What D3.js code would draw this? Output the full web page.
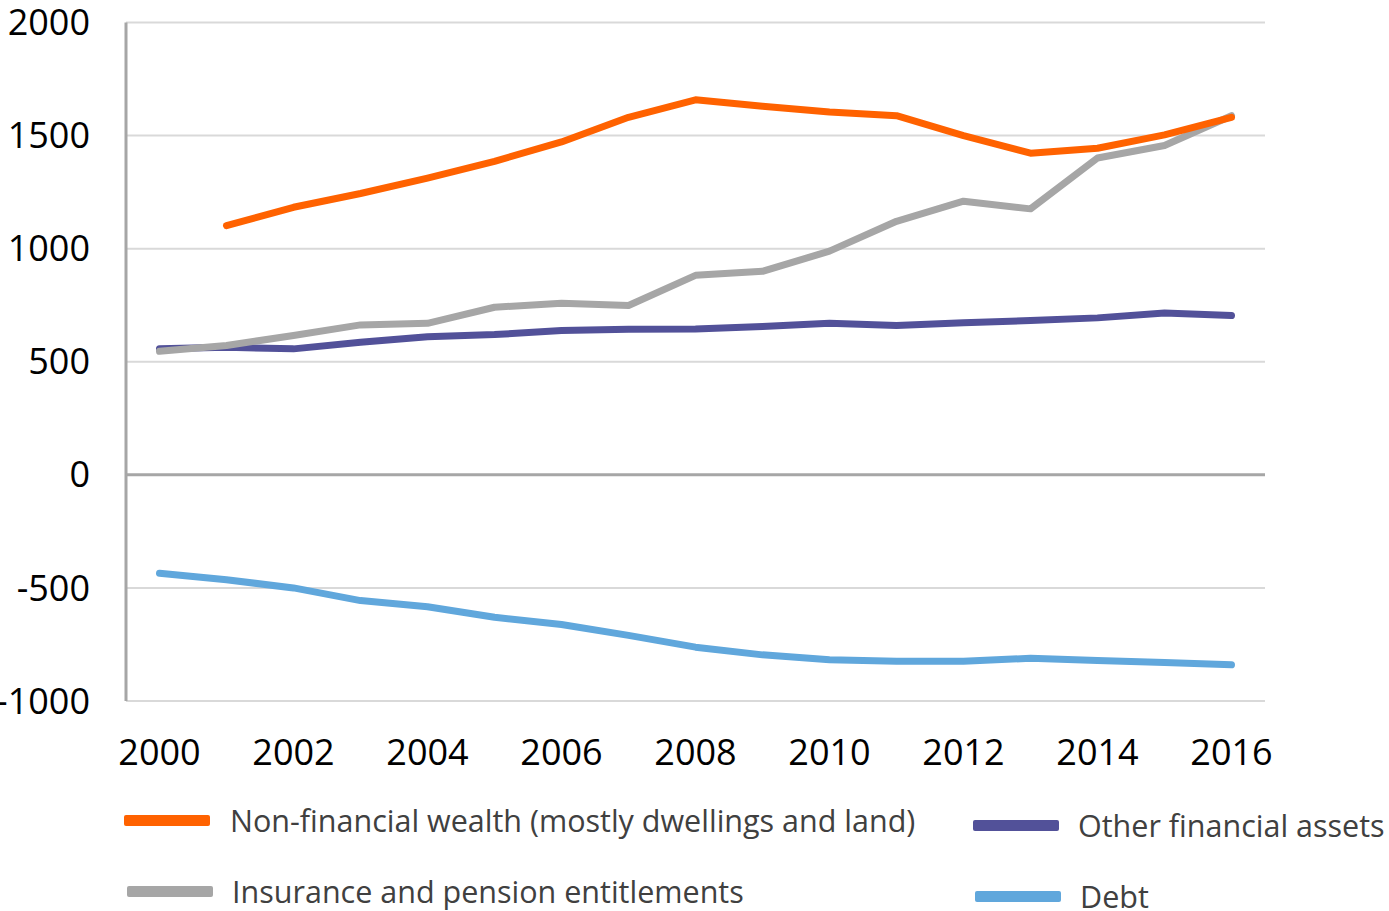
<!DOCTYPE html>
<html>
<head>
<meta charset="utf-8">
<script src="https://cdn.jsdelivr.net/npm/d3@7"></script>
<style>
  body { margin: 0; background: #fff; }
  svg { display: block; font-family: "Open Sans", sans-serif; }
</style>
</head>
<body>
<svg width="1389" height="911"></svg>
<script>
// years on the category axis
years = d3.range(2000, 2017);

// series values, null = no data
nonFinancial = [null, 1102, 1183, 1244, 1312, 1386, 1472, 1581, 1658, 1630, 1604, 1588, 1500, 1422, 1444, 1503, 1581];
insurance = [546, 572, 616, 663, 670, 741, 759, 749, 882, 900, 989, 1121, 1210, 1176, 1401, 1456, 1588];
otherFinancial = [557, 564, 557, 586, 611, 620, 638, 644, 645, 656, 670, 660, 672, 682, 694, 716, 704];
debt = [-435, -464, -500, -556, -583, -630, -662, -710, -762, -796, -818, -824, -824, -811, -821, -830, -840];

yTicks = [-1000, -500, 0, 500, 1000, 1500, 2000];
xTicks = [2000, 2002, 2004, 2006, 2008, 2010, 2012, 2014, 2016];

seriesNames = ["Non-financial wealth (mostly dwellings and land)", "Insurance and pension entitlements",
               "Other financial assets", "Debt"];
seriesColors = ["#ff6200", "#a6a6a6", "#525199", "#60a7dc"];

function plot() {
    svg = d3.select('svg');

    // Excel-style category axis: points sit in the middle of each slot
    x = d3.scalePoint()
        .domain(years)
        .range([126, 1265])
        .padding(0.5);

    y = d3.scaleLinear()
        .domain([-1000, 2000])
        .range([701, 22.5]);

    // gridlines
    svg.append('g')
        .selectAll('line')
        .data(yTicks.filter(d => d !== 0))
        .enter().append('line')
        .attr('x1', 126).attr('x2', 1265)
        .attr('y1', d => y(d)).attr('y2', d => y(d))
        .attr('stroke', '#d9d9d9')
        .attr('stroke-width', 2);

    // zero line and left axis line
    svg.append('line')
        .attr('x1', 126).attr('x2', 1265)
        .attr('y1', y(0)).attr('y2', y(0))
        .attr('stroke', '#a6a6a6')
        .attr('stroke-width', 3);

    svg.append('line')
        .attr('x1', 126).attr('x2', 126)
        .attr('y1', y(2000)).attr('y2', y(-1000))
        .attr('stroke', '#a6a6a6')
        .attr('stroke-width', 3);

    // y tick labels
    svg.append('g')
        .selectAll('text')
        .data(yTicks)
        .enter().append('text')
        .attr('x', 90)
        .attr('y', d => y(d))
        .attr('dy', '0.35em')
        .attr('text-anchor', 'end')
        .attr('font-size', 36)
        .attr('fill', '#000')
        .text(d => d);

    // x tick labels
    svg.append('g')
        .selectAll('text')
        .data(xTicks)
        .enter().append('text')
        .attr('x', d => x(d))
        .attr('y', 752)
        .attr('dy', '0.35em')
        .attr('text-anchor', 'middle')
        .attr('font-size', 36)
        .attr('fill', '#000')
        .text(d => d);

    // lines
    allSeries = [nonFinancial, insurance, otherFinancial, debt];
    line = d3.line()
        .defined(d => d != null)
        .x((d, i) => x(years[i]))
        .y(d => y(d));

    // draw order: purple, debt, grey, orange on top
    [2, 3, 1, 0].forEach(function(k) {
        svg.append('path')
            .datum(allSeries[k])
            .attr('d', line)
            .attr('fill', 'none')
            .attr('stroke', seriesColors[k])
            .attr('stroke-width', 7)
            .attr('stroke-linejoin', 'round')
            .attr('stroke-linecap', 'round');
    });

    show_legend();
}

// legend in two columns under the chart
function show_legend() {
    legendPos = [[124, 821, 230], [127, 892, 232], [973, 826, 1078], [975, 897, 1080]];

    leg = d3.select('svg').append('g')
        .selectAll('g')
        .data(seriesNames)
        .enter().append('g');

    leg.append('rect')
        .attr('x', (d, i) => legendPos[i][0])
        .attr('y', (d, i) => legendPos[i][1] - 6)
        .attr('width', 86)
        .attr('height', 11)
        .attr('rx', 2)
        .attr('fill', (d, i) => seriesColors[i]);

    leg.append('text')
        .attr('x', (d, i) => legendPos[i][2])
        .attr('y', (d, i) => legendPos[i][1])
        .attr('dy', '0.35em')
        .attr('font-size', 30.5)
        .attr('fill', '#404040')
        .text(d => d);
}

plot();
</script>
</body>
</html>
